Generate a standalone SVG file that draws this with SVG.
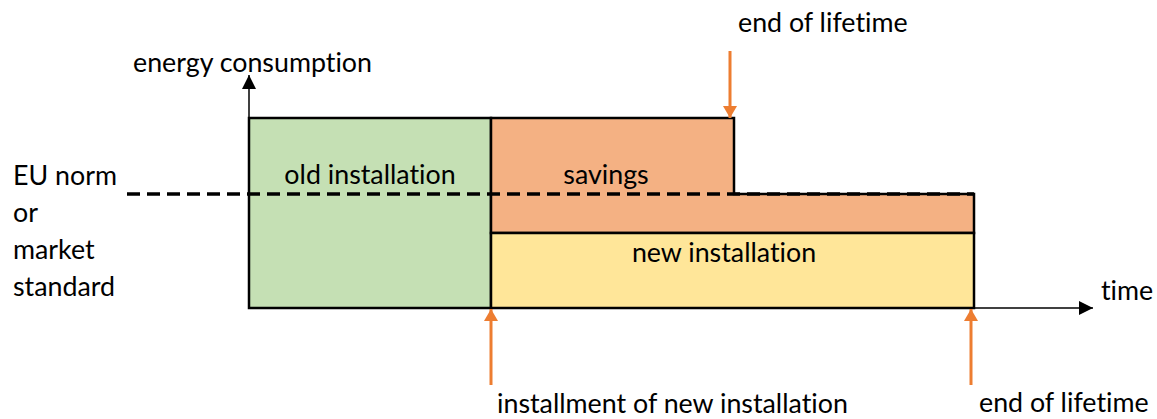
<svg xmlns="http://www.w3.org/2000/svg" width="1157" height="419" viewBox="0 0 1157 419">
<defs>
<style>
text{font-family:Lato,"Liberation Sans",sans-serif;font-size:26.8px;fill:#000;font-variant-ligatures:none;font-feature-settings:"liga" 0}
.box{stroke:#000;stroke-width:2.5}
.ax{stroke:#000;stroke-width:1.5;fill:none}
.or{stroke:#ED7D31;stroke-width:3;fill:none}
</style>
<marker id="oh" viewBox="0 0 12 14" refX="12" refY="7" markerWidth="12" markerHeight="14" markerUnits="userSpaceOnUse" orient="auto"><path d="M0,0L12,7L0,14z" fill="#ED7D31"/></marker>
<marker id="bh" viewBox="0 0 14 14" refX="14" refY="7" markerWidth="14" markerHeight="14" markerUnits="userSpaceOnUse" orient="auto"><path d="M0,0L14,7L0,14z" fill="#000"/></marker>
</defs>
<g id="old-installation">
<rect class="box" x="249" y="118" width="242" height="190" fill="#C5E0B4"/>
<text x="370" y="184" text-anchor="middle">old installation</text>
</g>
<g id="savings">
<path class="box" d="M491,118H734V194H974V233H491Z" fill="#F4B183"/>
<text x="606" y="184" text-anchor="middle">savings</text>
</g>
<g id="new-installation">
<rect class="box" x="491" y="233" width="483" height="75" fill="#FFE699"/>
<text x="724" y="262" text-anchor="middle">new installation</text>
</g>
<g id="norm">
<line x1="127" y1="194" x2="974" y2="194" stroke="#000" stroke-width="3.5" stroke-dasharray="13,7"/>
<text x="13" y="185">EU norm</text>
<text x="13" y="222">or</text>
<text x="13" y="259">market</text>
<text x="13" y="296">standard</text>
</g>
<g id="connectors">
<line class="ax" x1="249" y1="308" x2="249" y2="75" marker-end="url(#bh)"/>
<line class="ax" x1="974" y1="308" x2="1093" y2="308" marker-end="url(#bh)"/>
<line class="or" x1="730" y1="51" x2="730" y2="118" marker-end="url(#oh)"/>
<line class="or" x1="491" y1="385" x2="491" y2="309" marker-end="url(#oh)"/>
<line class="or" x1="971" y1="385" x2="971" y2="309" marker-end="url(#oh)"/>
</g>
<g id="labels">
<text x="133" y="72">energy consumption</text>
<text x="1101" y="300">time</text>
<text x="738" y="32">end of lifetime</text>
<text x="497" y="413">installment of new installation</text>
<text x="979" y="412">end of lifetime</text>
</g>
</svg>
